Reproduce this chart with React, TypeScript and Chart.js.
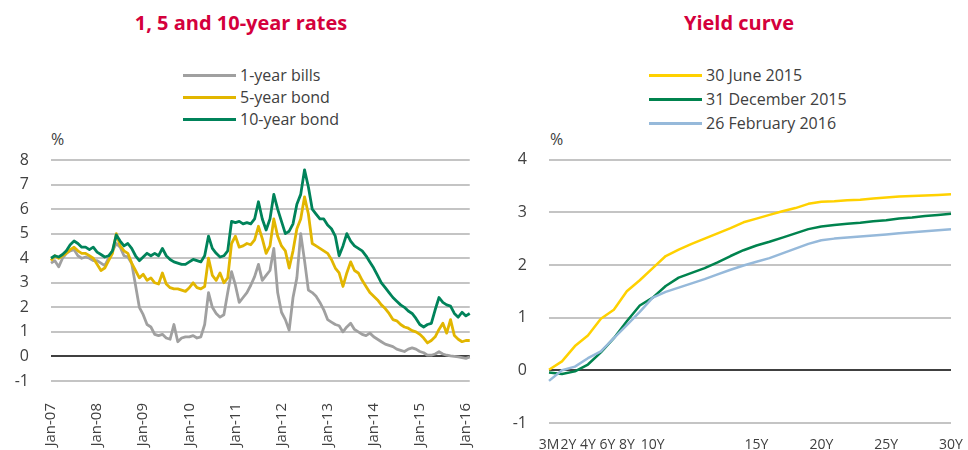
import React, { useEffect, useRef } from "react";
import { Chart, registerables } from "chart.js";

Chart.register(...registerables);

const FONT = '"Open Sans", "Noto Sans", "DejaVu Sans", sans-serif';
const TEXT = "#404040";
const TITLE_RED = "#D4003C";
const GRID = "#C4C4C4";
const ZERO = "#000000";

// ---------- Left chart: 1, 5 and 10-year rates (monthly, Jan-07 .. Feb-16) ----------
const MONTH_NAMES = ["Jan", "Feb", "Mar", "Apr", "May", "Jun", "Jul", "Aug", "Sep", "Oct", "Nov", "Dec"];
const rateMonths: string[] = [];
for (let y = 2007; y <= 2016; y++) {
  for (let m = 0; m < 12; m++) {
    if (y === 2016 && m > 1) break;
    rateMonths.push(`${MONTH_NAMES[m]}-${String(y).slice(2)}`);
  }
}

const bills1y = [
  3.8, 3.9, 3.65, 4.0, 4.2, 4.3, 4.35, 4.1, 4.0, 4.05, 4.0, 3.9,
  3.9, 3.8, 3.7, 4.0, 4.3, 4.6, 4.45, 4.1, 4.05, 3.8, 2.9, 2.0,
  1.7, 1.3, 1.2, 0.9, 0.85, 0.9, 0.75, 0.7, 1.3, 0.6, 0.75, 0.8,
  0.8, 0.85, 0.75, 0.8, 1.3, 2.6, 2.0, 1.75, 1.6, 1.7, 2.6, 3.45,
  2.9, 2.2, 2.4, 2.6, 2.9, 3.25, 3.75, 3.1, 3.3, 3.5, 4.4, 2.6,
  1.8, 1.5, 1.07, 2.4, 3.2, 5.0, 3.9, 2.7, 2.6, 2.45, 2.2, 1.9,
  1.5, 1.4, 1.3, 1.25, 1.0, 1.2, 1.35, 1.1, 1.0, 0.9, 0.85, 0.95,
  0.8, 0.7, 0.6, 0.5, 0.45, 0.4, 0.3, 0.25, 0.2, 0.3, 0.35, 0.3,
  0.2, 0.15, 0.05, 0.05, 0.1, 0.19, 0.1, 0.05, 0.02, 0.0, -0.02, -0.05,
  -0.08, -0.02,
];

const bond5y = [
  3.9, 4.1, 4.0, 4.1, 4.2, 4.35, 4.45, 4.3, 4.2, 4.2, 4.1, 4.0,
  3.75, 3.5, 3.6, 3.9, 4.2, 5.0, 4.5, 4.3, 4.2, 3.8, 3.5, 3.2,
  3.35, 3.1, 3.2, 3.0, 2.95, 3.4, 2.95, 2.8, 2.75, 2.75, 2.7, 2.65,
  2.8, 3.0, 2.8, 2.75, 2.85, 4.0, 3.3, 3.1, 3.4, 3.0, 3.2, 4.6,
  4.9, 4.45, 4.5, 4.6, 4.55, 4.75, 5.3, 4.8, 4.2, 4.5, 5.6, 4.9,
  4.5, 4.3, 3.6, 4.3, 5.2, 5.6, 6.5, 5.8, 4.6, 4.5, 4.4, 4.3,
  4.2, 3.95, 3.6, 3.4, 2.85, 3.4, 3.85, 3.5, 3.4, 3.1, 2.85, 2.6,
  2.45, 2.3, 2.1, 1.95, 1.75, 1.5, 1.45, 1.3, 1.2, 1.15, 1.05, 1.0,
  0.9, 0.75, 0.55, 0.65, 0.8, 1.1, 1.35, 0.95, 1.5, 0.85, 0.7, 0.6,
  0.65, 0.65,
];

const bond10y = [
  4.0, 4.1, 4.05, 4.15, 4.3, 4.55, 4.7, 4.6, 4.45, 4.45, 4.35, 4.45,
  4.25, 4.15, 4.05, 4.1, 4.3, 4.95, 4.7, 4.5, 4.6, 4.4, 4.1, 3.9,
  4.05, 4.2, 4.1, 4.2, 4.1, 4.4, 4.1, 3.95, 3.85, 3.8, 3.75, 3.75,
  3.85, 3.95, 3.9, 3.85, 4.1, 4.9, 4.4, 4.2, 4.05, 4.1, 4.3, 5.5,
  5.45, 5.5, 5.4, 5.45, 5.4, 5.6, 6.3, 5.6, 5.15, 5.6, 6.6, 6.0,
  5.5, 5.0, 5.1, 5.4, 6.2, 6.6, 7.6, 6.9, 6.0, 5.8, 5.6, 5.6,
  5.35, 5.2, 4.9, 4.1, 4.5, 5.0, 4.7, 4.5, 4.4, 4.3, 4.1, 3.85,
  3.6, 3.3, 3.0, 2.8, 2.6, 2.4, 2.25, 2.1, 2.0, 1.85, 1.75, 1.55,
  1.3, 1.2, 1.3, 1.35, 1.9, 2.4, 2.2, 2.1, 2.05, 1.75, 1.6, 1.8,
  1.65, 1.75,
];

const rateTicksY = { min: -1, max: 8, step: 1 };

// ---------- Right chart: Yield curve ----------
const maturitySlots = [
  "3M", "", "", "2Y", "", "", "4Y", "", "", "6Y", "", "", "8Y", "", "", "",
  "10Y", "", "", "", "", "", "", "", "", "", "", "", "", "", "", "",
  "15Y", "", "", "", "", "", "", "", "", "",
  "20Y", "", "", "", "", "", "", "", "", "",
  "25Y", "", "", "", "", "", "", "", "", "",
  "30Y",
];

const yieldJun2015 = [
  0.01, 0.17, 0.46, 0.66, 0.98, 1.15, 1.5, 1.71, 1.94, 2.17, 2.29, 2.4, 2.5, 2.6, 2.7, 2.81,
  2.88, 2.95, 3.02, 3.08, 3.16, 3.2, 3.21, 3.23, 3.24, 3.26, 3.28, 3.3, 3.31, 3.32, 3.33, 3.34,
];
const yieldDec2015 = [
  -0.04, -0.07, -0.02, 0.11, 0.34, 0.61, 0.93, 1.23, 1.38, 1.6, 1.76, 1.85, 1.94, 2.05, 2.17, 2.28,
  2.37, 2.44, 2.52, 2.6, 2.68, 2.73, 2.76, 2.78, 2.8, 2.83, 2.85, 2.88, 2.9, 2.93, 2.95, 2.97,
];
const yieldFeb2016 = [
  -0.2, 0.0, 0.07, 0.23, 0.36, 0.61, 0.86, 1.11, 1.38, 1.49, 1.57, 1.65, 1.73, 1.82, 1.91, 1.99,
  2.06, 2.13, 2.22, 2.31, 2.4, 2.47, 2.5, 2.52, 2.54, 2.56, 2.58, 2.6, 2.62, 2.64, 2.66, 2.68,
];

const curveTicksY = { min: -1, max: 4, step: 1 };

const COLORS = {
  bills: "#A0A0A0",
  bond5: "#E2B600",
  bond10: "#00835A",
  jun: "#FFD100",
  dec: "#00834E",
  feb: "#96B9DA",
};

// one reading every second maturity slot; the line spans the empty slots
const toSlots = (vals: number[]) => maturitySlots.map((_, i) => (i % 2 === 0 ? vals[i / 2] : null));

const CLEAR = "rgba(0,0,0,0)";

// horizontal grid lines drawn through the y scale (zero line in black)
const hGridPlugin = {
  id: "hGrid",
  beforeDatasetsDraw(chart: any) {
    const { ctx, chartArea, scales } = chart;
    const y = scales.y;
    ctx.save();
    y.ticks.forEach((t: any) => {
      const py = Math.round(y.getPixelForValue(t.value));
      ctx.beginPath();
      ctx.strokeStyle = t.value === 0 ? ZERO : GRID;
      ctx.lineWidth = t.value === 0 ? 1.5 : 2;
      ctx.moveTo(chartArea.left, py);
      ctx.lineTo(chartArea.right, py);
      ctx.stroke();
    });
    ctx.restore();
  },
};

function ChartCanvas({ config, left, top, width, height }: any) {
  const ref = useRef<HTMLCanvasElement | null>(null);
  useEffect(() => {
    if (!ref.current) return;
    const chart = new Chart(ref.current, config);
    return () => chart.destroy();
  }, []);
  return (
    <canvas
      ref={ref}
      width={width}
      height={height}
      style={{ position: "absolute", left, top, width, height }}
    />
  );
}

function yAxis(t: any, width: number) {
  return {
    min: t.min,
    max: t.max,
    grid: {
      drawOnChartArea: false,
      drawTicks: true,
      tickLength: 22,
      tickColor: CLEAR,
    },
    border: { display: false },
    ticks: {
      stepSize: t.step,
      autoSkip: false,
      padding: 0,
      color: TEXT,
      font: { family: FONT, size: 16 },
    },
    afterFit: (s: any) => {
      s.width = width;
    },
  };
}

const rateConfig: any = {
  type: "line",
  data: {
    labels: rateMonths,
    datasets: [
      { label: "1-year bills", data: bills1y, borderColor: COLORS.bills, borderWidth: 2.8, order: 2 },
      { label: "5-year bond", data: bond5y, borderColor: COLORS.bond5, borderWidth: 2.8, order: 1 },
      { label: "10-year bond", data: bond10y, borderColor: COLORS.bond10, borderWidth: 2.8, order: 0 },
    ],
  },
  plugins: [hGridPlugin],
  options: {
    responsive: false,
    animation: false,
    devicePixelRatio: 1,
    layout: { padding: { top: 10, right: 11, bottom: 0, left: 0 } },
    plugins: { legend: { display: false }, tooltip: { enabled: false }, title: { display: false } },
    elements: { point: { radius: 0 }, line: { tension: 0, borderJoinStyle: "round" } },
    scales: {
      x: {
        type: "category",
        offset: false,
        grid: { display: true, drawOnChartArea: false, drawTicks: true, tickLength: 22, tickColor: CLEAR },
        border: { display: false },
        ticks: {
          autoSkip: false,
          maxRotation: 90,
          minRotation: 90,
          padding: 0,
          color: TEXT,
          font: { family: FONT, size: 15 },
          callback: (_v: any, i: number) => (rateMonths[i].startsWith("Jan") ? rateMonths[i] : null),
        },
        afterFit: (s: any) => {
          s.height = 69;
        },
      },
      y: yAxis(rateTicksY, 51),
    },
  },
};

const curveConfig: any = {
  type: "line",
  data: {
    labels: maturitySlots,
    datasets: [
      { label: "30 June 2015", data: toSlots(yieldJun2015), borderColor: COLORS.jun, borderWidth: 2.5, order: 2 },
      { label: "31 December 2015", data: toSlots(yieldDec2015), borderColor: COLORS.dec, borderWidth: 2.5, order: 1 },
      { label: "26 February 2016", data: toSlots(yieldFeb2016), borderColor: COLORS.feb, borderWidth: 2.5, order: 0 },
    ],
  },
  plugins: [hGridPlugin],
  options: {
    responsive: false,
    animation: false,
    devicePixelRatio: 1,
    spanGaps: true,
    layout: { padding: { top: 9, right: 17, bottom: 0, left: 0 } },
    plugins: { legend: { display: false }, tooltip: { enabled: false }, title: { display: false } },
    elements: { point: { radius: 0 }, line: { tension: 0, borderJoinStyle: "round" } },
    scales: {
      x: {
        type: "category",
        offset: false,
        grid: { display: true, drawOnChartArea: false, drawTicks: true, tickLength: 14, tickColor: CLEAR },
        border: { display: false },
        ticks: {
          autoSkip: false,
          maxRotation: 0,
          minRotation: 0,
          padding: 0,
          color: TEXT,
          font: { family: FONT, size: 14 },
          callback: (_v: any, i: number) => maturitySlots[i],
        },
        afterFit: (s: any) => {
          s.height = 27;
        },
      },
      y: yAxis(curveTicksY, 65),
    },
  },
};

function Legend({ items, left, top, rowGap }: any) {
  return (
    <>
      {items.map((it: any, i: number) => (
        <div
          key={it.label}
          style={{
            position: "absolute",
            left,
            top: top + i * rowGap - 11,
            height: 22,
            display: "flex",
            alignItems: "center",
            whiteSpace: "nowrap",
          }}
        >
          <div style={{ width: 53, height: 3, background: it.color, marginRight: 4 }} />
          <span style={{ fontSize: 16, color: TEXT, lineHeight: "22px" }}>{it.label}</span>
        </div>
      ))}
    </>
  );
}

export default function App() {
  return (
    <div
      style={{
        position: "fixed",
        left: 0,
        top: 0,
        width: 968,
        height: 450,
        background: "#ffffff",
        overflow: "hidden",
        fontFamily: FONT,
      }}
    >
      <div
        style={{
          position: "absolute",
          left: 0,
          width: 482,
          top: 10,
          textAlign: "center",
          fontWeight: 700,
          fontSize: 20,
          lineHeight: "26px",
          color: TITLE_RED,
        }}
      >
        1, 5 and 10-year rates
      </div>
      <div
        style={{
          position: "absolute",
          left: 497,
          width: 484,
          top: 10,
          textAlign: "center",
          fontWeight: 700,
          fontSize: 20,
          lineHeight: "26px",
          color: TITLE_RED,
        }}
      >
        Yield curve
      </div>

      <Legend
        left={183}
        top={75}
        rowGap={22}
        items={[
          { label: "1-year bills", color: COLORS.bills },
          { label: "5-year bond", color: COLORS.bond5 },
          { label: "10-year bond", color: COLORS.bond10 },
        ]}
      />
      <Legend
        left={649}
        top={75}
        rowGap={24}
        items={[
          { label: "30 June 2015", color: COLORS.jun },
          { label: "31 December 2015", color: COLORS.dec },
          { label: "26 February 2016", color: COLORS.feb },
        ]}
      />

      <div style={{ position: "absolute", left: 51, top: 129, fontSize: 16, color: TEXT, lineHeight: "20px" }}>%</div>
      <div style={{ position: "absolute", left: 550, top: 129, fontSize: 16, color: TEXT, lineHeight: "20px" }}>%</div>

      <ChartCanvas config={rateConfig} left={0} top={150} width={484} height={300} />
      <ChartCanvas config={curveConfig} left={484} top={150} width={484} height={300} />
    </div>
  );
}
